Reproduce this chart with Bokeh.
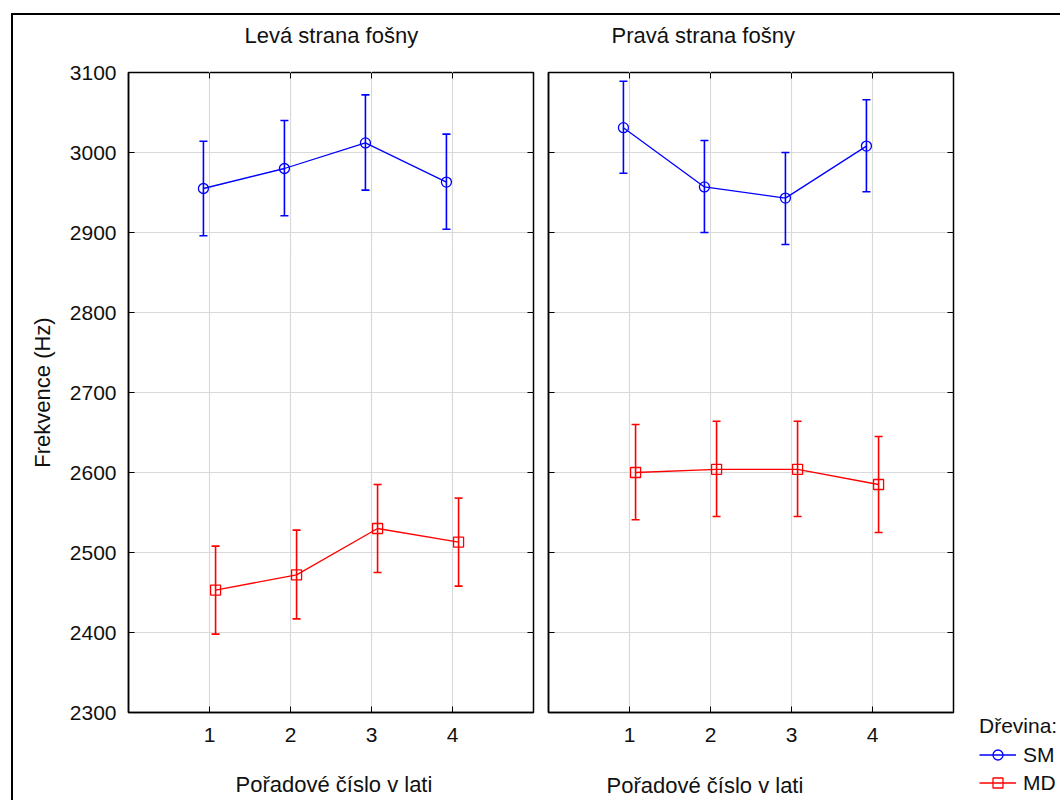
from bokeh.plotting import figure
from bokeh.layouts import row
from bokeh.models import (ColumnDataSource, Range1d, FixedTicker, LinearAxis,
                          Whisker, TeeHead, Title, Legend, LegendItem)
from bokeh.transform import dodge
from bokeh.embed import file_html
from bokeh.resources import INLINE

# ---------------- data ----------------
lath = [1, 2, 3, 4]
x_ticks = [1, 2, 3, 4]
y_ticks = [2300, 2400, 2500, 2600, 2700, 2800, 2900, 3000, 3100]

panel_titles = ["Levá strana fošny", "Pravá strana fošny"]
x_label = "Pořadové číslo v lati"
y_label = "Frekvence (Hz)"
legend_title = "Dřevina:"
species = ["SM", "MD"]

sm_left_mean = [2955, 2980, 3012, 2963]
sm_left_lower = [2896, 2921, 2953, 2904]
sm_left_upper = [3014, 3040, 3072, 3023]

sm_right_mean = [3031, 2957, 2943, 3008]
sm_right_lower = [2974, 2900, 2885, 2951]
sm_right_upper = [3089, 3015, 3000, 3066]

md_left_mean = [2453, 2472, 2530, 2513]
md_left_lower = [2398, 2417, 2475, 2458]
md_left_upper = [2508, 2528, 2585, 2568]

md_right_mean = [2600, 2604, 2604, 2585]
md_right_lower = [2541, 2545, 2545, 2525]
md_right_upper = [2660, 2664, 2664, 2645]

# ---------------- style ----------------
FONT = "Liberation Sans"
TICK_FS = "21px"
LAB_FS = "22px"
BLUE = "#0000ff"
RED = "#ff0000"
GRID = "#d9d9d9"
TXT = "#111111"


def tick_axis(ticks):
    # ticks drawn inward, no labels
    return LinearAxis(ticker=FixedTicker(ticks=ticks), major_label_text_color=None,
                      major_label_text_font_size="1px", major_label_standoff=0,
                      major_tick_in=6, major_tick_out=0, major_tick_line_color="black",
                      minor_tick_line_color=None, minor_tick_out=0, axis_line_color=None)


def spacer_axis(ticks, n):
    # axis whose (white, outward) ticks only reserve n pixels of space
    return LinearAxis(ticker=FixedTicker(ticks=ticks), major_label_text_color=None,
                      major_label_text_font_size="1px", major_label_standoff=0,
                      major_tick_in=0, major_tick_out=n, major_tick_line_color="white",
                      major_tick_line_width=1,
                      minor_tick_line_color=None, minor_tick_out=0, axis_line_color=None)


def make_panel(title, title_offset, xlab_offset, xlab_space, left_border, right_border,
               show_ylabels, series):
    p = figure(frame_width=405, frame_height=640,
               min_border_left=left_border, min_border_right=right_border,
               min_border_top=57, min_border_bottom=85,
               x_range=Range1d(0, 5), y_range=Range1d(2300, 3100),
               toolbar_location=None, output_backend="svg", frame_align=False)
    p.title = None

    p.outline_line_color = "black"
    p.outline_line_width = 1.5
    p.background_fill_color = "white"
    p.border_fill_color = "white"

    p.xaxis.ticker = FixedTicker(ticks=x_ticks)
    p.yaxis.ticker = FixedTicker(ticks=y_ticks)
    for ax in (p.xaxis, p.yaxis):
        ax.major_tick_in = 6
        ax.major_tick_out = 0
        ax.minor_tick_line_color = None
        ax.minor_tick_out = 0
        ax.axis_line_color = "black"
        ax.axis_line_width = 1.5
        ax.major_label_text_font = FONT
        ax.major_label_text_font_size = TICK_FS
        ax.major_label_text_color = TXT
    p.xaxis.major_label_standoff = 15
    if show_ylabels:
        p.yaxis.major_label_standoff = 12
        p.yaxis.axis_label = y_label
        p.yaxis.axis_label_text_font = FONT
        p.yaxis.axis_label_text_font_size = LAB_FS
        p.yaxis.axis_label_text_font_style = "normal"
        p.yaxis.axis_label_text_color = TXT
        p.yaxis.axis_label_standoff = 12
    else:
        p.yaxis.major_label_text_color = None
        p.yaxis.major_label_text_font_size = "1px"
        p.yaxis.major_label_standoff = 0

    p.add_layout(tick_axis(x_ticks), "above")
    p.add_layout(spacer_axis(x_ticks, 21), "above")
    tt = Title(text=title, align="left", offset=title_offset, standoff=8,
               text_font=FONT, text_font_size=LAB_FS, text_font_style="normal",
               text_color=TXT)
    p.add_layout(tt, "above")
    p.add_layout(tick_axis(y_ticks), "right")

    p.xgrid.ticker = FixedTicker(ticks=x_ticks)
    p.ygrid.ticker = FixedTicker(ticks=y_ticks)
    p.grid.grid_line_color = GRID
    p.grid.grid_line_width = 1.2

    p.add_layout(spacer_axis(x_ticks, xlab_space), "below")
    xt = Title(text=x_label, align="left", offset=xlab_offset, standoff=0,
               text_font=FONT, text_font_size=LAB_FS, text_font_style="normal",
               text_color=TXT)
    p.add_layout(xt, "below")

    for mean, lower, upper, color, marker, off in series:
        src = ColumnDataSource(dict(x=lath, mean=mean, lower=lower, upper=upper))
        w = Whisker(source=src, base=dodge("x", off), upper="upper", lower="lower",
                    line_color=color, line_width=1.6, level="glyph",
                    upper_head=TeeHead(size=8, line_color=color, line_width=1.6),
                    lower_head=TeeHead(size=8, line_color=color, line_width=1.6))
        p.add_layout(w)
        p.line(x=dodge("x", off), y="mean", source=src, line_color=color, line_width=1.3)
        p.scatter(x=dodge("x", off), y="mean", source=src, marker=marker, size=10,
                  line_color=color, fill_alpha=0, line_width=1.3)
    return p


p1 = make_panel(panel_titles[0], 116, 107, 25, 115, 7, True, [
    (sm_left_mean, sm_left_lower, sm_left_upper, BLUE, "circle", -0.075),
    (md_left_mean, md_left_lower, md_left_upper, RED, "square", 0.075),
])
p2 = make_panel(panel_titles[1], 63, 58, 26, 8, 17, False, [
    (sm_right_mean, sm_right_lower, sm_right_upper, BLUE, "circle", -0.075),
    (md_right_mean, md_right_lower, md_right_upper, RED, "square", 0.075),
])

# legend lives in its own small canvas at the bottom right
p3 = figure(frame_width=90, frame_height=90, min_border_left=0, min_border_right=0,
            min_border_top=695, min_border_bottom=0,
            x_range=Range1d(0, 1), y_range=Range1d(0, 1),
            x_axis_type=None, y_axis_type=None, toolbar_location=None,
            output_backend="svg", frame_align=False)
p3.outline_line_color = None
p3.background_fill_color = "white"
p3.border_fill_color = "white"
# legend proxies (hidden, only their legend glyphs are shown)
sm_line = p3.line(x=lath, y=sm_right_mean, line_color=BLUE, line_width=1.6, visible=False)
sm_mark = p3.scatter(x=lath, y=sm_right_mean, marker="circle", size=7, line_color=BLUE,
                     fill_alpha=0, line_width=1.3, visible=False)
md_line = p3.line(x=lath, y=md_right_mean, line_color=RED, line_width=1.6, visible=False)
md_mark = p3.scatter(x=lath, y=md_right_mean, marker="square", size=9, line_color=RED,
                     fill_alpha=0, line_width=1.3, visible=False)
legend = Legend(items=[LegendItem(label=species[0], renderers=[sm_line, sm_mark]),
                       LegendItem(label=species[1], renderers=[md_line, md_mark])],
                location=(9, 5), title=legend_title,
                title_text_font=FONT, title_text_font_size="21px",
                title_text_font_style="normal", title_text_color=TXT,
                label_text_font=FONT, label_text_font_size="21px", label_text_color=TXT,
                glyph_width=37, glyph_height=25, label_height=25, spacing=3,
                padding=0, margin=0, border_line_color=None, background_fill_alpha=0,
                inactive_fill_alpha=0, click_policy="none",
                title_standoff=4, label_standoff=7)
p3.add_layout(legend, "center")

layout = row(p1, p2, p3, styles={"border-left": "2px solid black",
                                 "border-top": "2px solid black",
                                 "margin-left": "11px", "margin-top": "13px"})

open("out.html", "w").write(file_html(layout, INLINE))
